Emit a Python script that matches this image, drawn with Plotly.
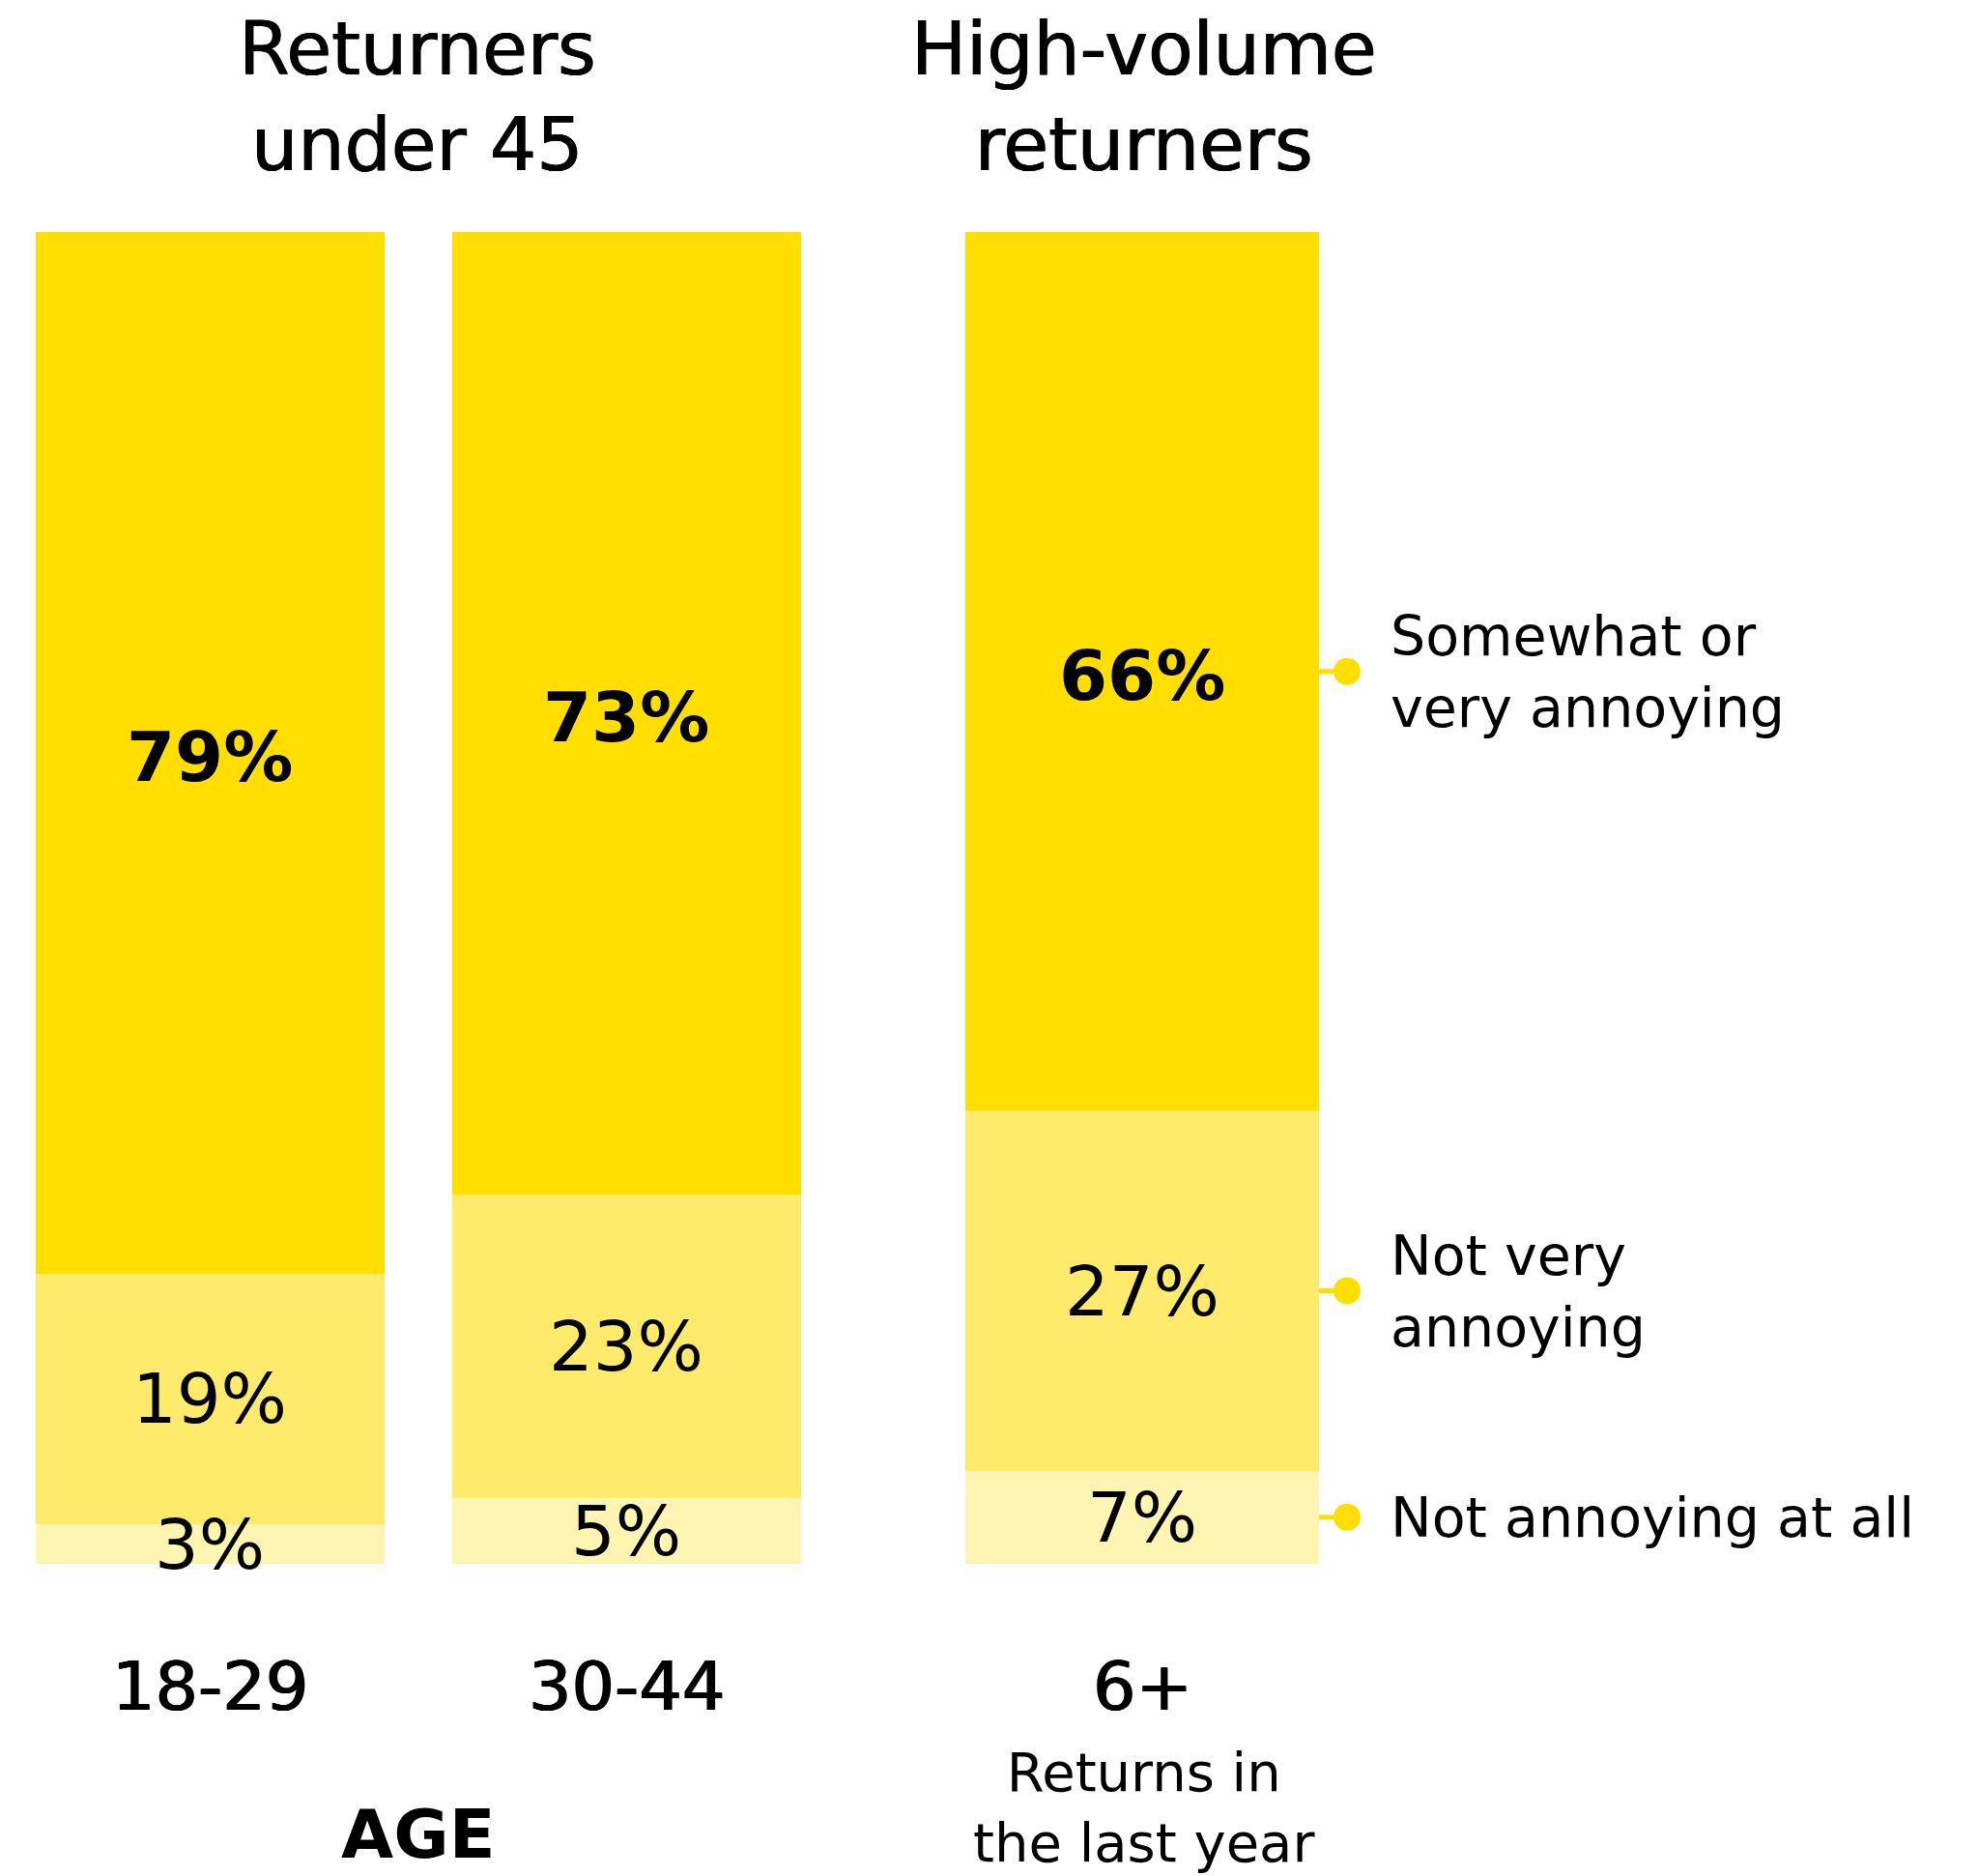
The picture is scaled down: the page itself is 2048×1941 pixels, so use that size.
import plotly.graph_objects as go

# ---------------- data ----------------
groups = ["18-29", "30-44", "6+"]
panel_of_group = [0, 0, 1]          # which panel each group sits in
panel_titles = ["Returners<br>under 45", "High-volume<br>returners"]
panel_notes = ["<b>AGE</b>", "Returns in<br>the last year"]
series_names = ["Not annoying at all", "Not very<br>annoying", "Somewhat or<br>very annoying"]
not_at_all = [3, 5, 7]
not_very = [19, 23, 27]
annoying = [79, 73, 66]
series_values = [not_at_all, not_very, annoying]
series_colors = ["#FFF5B2", "#FFEB6B", "#FFDE00"]
series_bold = [False, False, True]

# ---------------- layout helpers ----------------
W, H = 2048, 1941
def fx(px):
    return px / W
def fy(py):
    return 1 - py / H

FONT = "DejaVu Sans"
BARGAP = 0.1624
x_domains = [[fx(1.5), fx(863.5)], [fx(963.5), fx(1400.5)]]
y_domain = [fy(1618), fy(240)]
axis_names = [("x", "y"), ("x2", "y2")]

fig = go.Figure()

# bars
for s, (name, vals, col) in enumerate(zip(series_names, series_values, series_colors)):
    for p in range(2):
        xs = [g for g, pg in zip(groups, panel_of_group) if pg == p]
        ys = [v for v, pg in zip(vals, panel_of_group) if pg == p]
        fig.add_trace(go.Bar(
            x=xs, y=ys, name=name.replace("<br>", " "),
            marker=dict(color=col, line=dict(width=0)),
            xaxis=axis_names[p][0], yaxis=axis_names[p][1],
            showlegend=False, hoverinfo="skip",
        ))

annotations = []
shapes = []

# segment labels (positions from normalized cumulative values)
totals = [sum(series_values[s][i] for s in range(3)) for i in range(len(groups))]
seg_centers = [[0] * len(groups) for _ in range(3)]
for i, g in enumerate(groups):
    cum = 0
    for s in range(3):
        v = series_values[s][i]
        c = 100 * (cum + v / 2) / totals[i]
        seg_centers[s][i] = c
        cum += v
        p = panel_of_group[i]
        annotations.append(dict(
            x=g, y=c, xref=axis_names[p][0], yref=axis_names[p][1],
            text=f"{v}%", showarrow=False, xanchor="center", yanchor="middle",
            yshift=-4 if series_bold[s] else 0,
            font=dict(family=FONT, size=72, color="#000",
                      weight="bold" if series_bold[s] else "normal"),
        ))
    # category label
    p = panel_of_group[i]
    annotations.append(dict(
        x=g, y=fy(1745), xref=axis_names[p][0], yref="paper",
        text=g, showarrow=False, xanchor="center", yanchor="middle",
        font=dict(family=FONT, size=70, color="#000",
                  shadow="0.8px 0 0 #000, -0.8px 0 0 #000"),
    ))

# panel titles and notes
panel_centers = [fx(432), fx(1184)]
for p in range(2):
    annotations.append(dict(
        x=panel_centers[p], y=fy(100), xref="paper", yref="paper",
        text=panel_titles[p], showarrow=False, xanchor="center", yanchor="middle",
        font=dict(family=FONT, size=76, color="#000",
                  shadow="0.6px 0 0 #000, -0.6px 0 0 #000"),
    ))
annotations.append(dict(
    x=panel_centers[0], y=fy(1898), xref="paper", yref="paper",
    text=panel_notes[0], showarrow=False, xanchor="center", yanchor="middle",
    font=dict(family=FONT, size=70, color="#000"),
))
annotations.append(dict(
    x=panel_centers[1], y=fy(1870), xref="paper", yref="paper",
    text=panel_notes[1], showarrow=False, xanchor="center", yanchor="middle",
    font=dict(family=FONT, size=56, color="#000"),
))

# legend: connectors, dots and labels next to the last bar
last = len(groups) - 1
for s in range(3):
    yc = seg_centers[s][last]
    shapes.append(dict(
        type="line", xref="paper", yref="y2",
        x0=fx(1365), x1=fx(1392), y0=yc, y1=yc,
        line=dict(color="#FFDE00", width=5),
    ))
    shapes.append(dict(
        type="circle", xref="paper", yref="y2",
        xsizemode="pixel", ysizemode="pixel",
        xanchor=fx(1394), yanchor=yc,
        x0=-14, x1=14, y0=-14, y1=14,
        fillcolor="#FFDE00", line=dict(width=0),
    ))
    annotations.append(dict(
        x=fx(1437), y=yc, xref="paper", yref="y2",
        text=series_names[s], showarrow=False, xanchor="left", yanchor="middle",
        align="left",
        font=dict(family=FONT, size=57, color="#000"),
    ))

axis_common = dict(showgrid=False, zeroline=False, showticklabels=False,
                   showline=False, ticks="", fixedrange=True)
fig.update_layout(
    width=W, height=H,
    margin=dict(l=0, r=0, t=0, b=0),
    paper_bgcolor="white", plot_bgcolor="white",
    barmode="stack", barnorm="percent", bargap=BARGAP,
    showlegend=False,
    xaxis=dict(domain=x_domains[0], anchor="y", type="category", **axis_common),
    yaxis=dict(domain=y_domain, anchor="x", range=[0, 100], **axis_common),
    xaxis2=dict(domain=x_domains[1], anchor="y2", type="category", **axis_common),
    yaxis2=dict(domain=y_domain, anchor="x2", range=[0, 100], **axis_common),
    annotations=annotations,
    shapes=shapes,
)

fig.write_html(
    "out.html",
    config={"displayModeBar": False},
    post_script="document.body.style.margin='0px';document.body.style.overflow='hidden';",
)
